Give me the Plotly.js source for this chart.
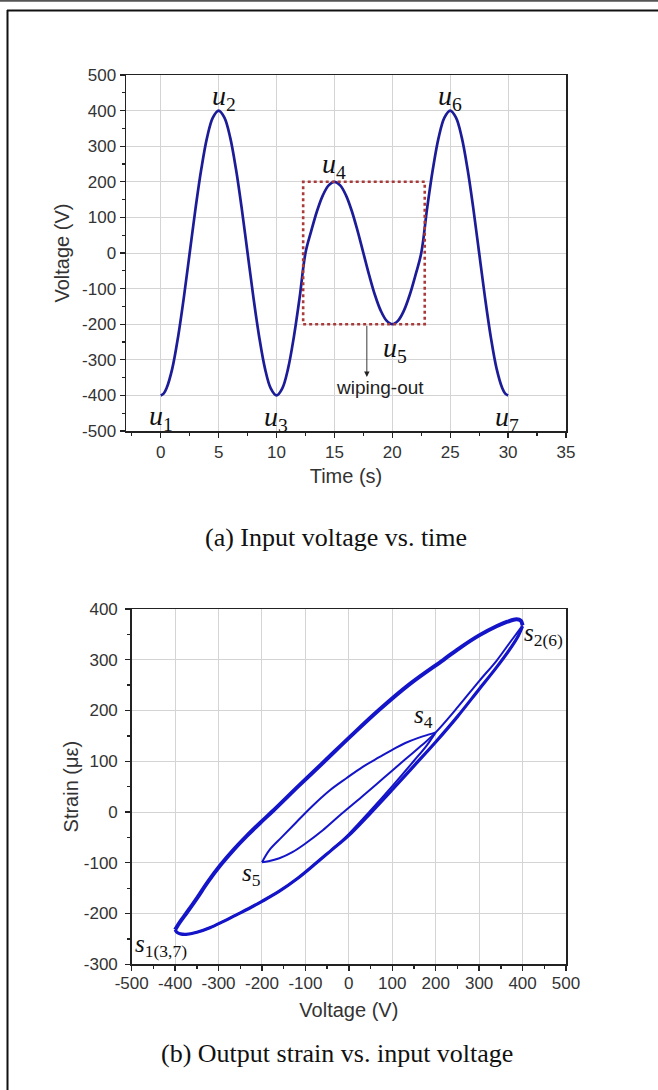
<!DOCTYPE html>
<html>
<head>
<meta charset="utf-8">
<script src="https://cdn.plot.ly/plotly-3.0.1.min.js"></script>
<style>
html,body{margin:0;padding:0;background:#fff;}
#chart{width:658px;height:1090px;}
</style>
</head>
<body>
<div id="chart"></div>
<script>
// ---------- Panel (a): input voltage vs time ----------
const timeS = [0,0.25,0.5,1,1.5,2,2.5,3,3.5,4,4.5,5,5.5,6,6.5,7,7.5,8,8.5,9,9.5,10,
  10.5,11,11.5,12,12.5,13,13.5,14,14.5,15,15.5,16,16.5,17,17.5,18,18.5,19,19.5,20,
  20.5,21,21.5,22,22.5,23,23.5,24,24.5,25,25.5,26,26.5,27,27.5,28,28.5,29,29.5,29.75,30];
const voltageV = [-400,-395,-380,-324,-235,-124,0,124,235,324,380,400,380,324,235,124,0,-124,-235,-324,-380,-400,
  -380,-324,-235,-124,0,62,118,162,190,200,190,162,118,62,0,-62,-118,-162,-190,-200,
  -190,-162,-118,-62,0,124,235,324,380,400,380,324,235,124,0,-124,-235,-324,-380,-395,-400];

const aXTicks = [0,5,10,15,20,25,30,35];
const aXTickText = ['0','5','10','15','20','25','30','35'];
const aYTicks = [-500,-400,-300,-200,-100,0,100,200,300,400,500];
const aYTickText = ['-500','-400','-300','-200','-100','0','100','200','300','400','500'];

const uLabels = ['1','2','3','4','5','6','7'];
const uT = [0.05,5.45,9.95,15.0,20.2,24.95,29.9];
const uV = [-461,438,-466,247,-270,438,-466];

const boxT = [12.3,22.8];
const boxV = [-200,200];
const wipeArrowT = 17.8;
const wipeArrowV = [-200,-348];
const wipeTextT = 18.9;
const wipeTextV = -379;

// ---------- Panel (b): output strain vs input voltage ----------
// pass 1: u1 -> u2 (ascending, outer lower branch)
const pass1V = [-400,-396,-388,-375,-350,-320,-290,-260,-230,-200,-160,-120,-80,-40,0,50,100,150,200,250,300,340,370,390,400];
const pass1S = [-232,-237,-240,-241,-237,-228,-216,-203,-190,-176,-156,-132,-104,-75,-46,-2,44,91,138,188,242,285,320,347,366];
// descending outer upper branch: u2 -> u3 and u6 -> u7
const upperV = [400,396,386,365,340,300,260,218,140,68,5,-56,-115,-175,-205,-235,-265,-295,-325,-350,-373,-385,-393,-400];
const upperS = [368,377,380,375,366,348,326,300,252,200,150,100,52,2,-22,-47,-74,-104,-138,-170,-198,-212,-222,-232];
// pass 3: u3 -> u4 (ascending to s4)
const pass3V = [-400,-396,-388,-375,-350,-320,-290,-260,-230,-200,-160,-120,-80,-40,0,50,100,150,180,200];
const pass3S = [-232,-237,-240,-241,-237,-228,-216,-203,-190,-176,-156,-132,-104,-75,-43,3,51,101,132,157];
// minor loop descending: u4 -> u5
const minorDownV = [200,185,160,130,109,70,32,-5,-45,-85,-122,-155,-183,-200];
const minorDownS = [157,153,146,136,127,108,89,67,42,11,-21,-50,-75,-99];
// ascending: u5 -> u4 -> u6
const minorUpV = [-200,-185,-160,-130,-100,-60,-20,30,80,130,170,200,250,300,340,370,390,400];
const minorUpS = [-99,-97,-91,-79,-62,-36,-6,30,67,104,133,157,206,258,298,333,356,368];

const bXTicks = [-500,-400,-300,-200,-100,0,100,200,300,400,500];
const bXTickText = ['-500','-400','-300','-200','-100','0','100','200','300','400','500'];
const bYTicks = [-300,-200,-100,0,100,200,300,400];
const bYTickText = ['-300','-200','-100','0','100','200','300','400'];

const sLabels = ['1(3,7)','4','5','2(6)'];
const sV = [-432,171,-225,448];
const sS = [-262,189,-124,349];

const captionA = '(a) Input voltage vs. time';
const captionB = '(b) Output strain vs. input voltage';

// ---------- figure ----------
const W = 658, H = 1090;
const px = v => v / W;
const py = v => 1 - v / H;

const sans = 'Liberation Sans, Arial, sans-serif';
const serif = 'Liberation Serif, Times New Roman, serif';
const tickFont = {family:sans, size:17, color:'#333'};
const titleFont = {family:sans, size:20, color:'#333'};

function axisStyle(extra){
  return Object.assign({
    showline:true, linecolor:'#222', linewidth:1.5, mirror:true,
    ticks:'outside', ticklen:5, tickwidth:1.3, tickcolor:'#222',
    showgrid:true, gridcolor:'#d4d4d4', gridwidth:1,
    zeroline:false, tickfont:tickFont, tickmode:'array', automargin:false,
    fixedrange:true
  }, extra);
}
function minorTicks(d){
  return {ticks:'outside', ticklen:3, tickcolor:'#222', dtick:d, tick0:0, showgrid:false};
}

const navy = '#1c1c98';
const blue = '#1414c8';
const sp = 1.0;

const traces = [
  {x:timeS, y:voltageV, xaxis:'x', yaxis:'y', mode:'lines', line:{color:navy, width:2.7, shape:'spline', smoothing:sp}, hoverinfo:'skip'},
  {x:pass1V, y:pass1S, xaxis:'x2', yaxis:'y2', mode:'lines', line:{color:blue, width:3.2, shape:'spline', smoothing:sp}, hoverinfo:'skip'},
  {x:upperV, y:upperS, xaxis:'x2', yaxis:'y2', mode:'lines', line:{color:blue, width:4, shape:'spline', smoothing:sp}, hoverinfo:'skip'},
  {x:pass3V, y:pass3S, xaxis:'x2', yaxis:'y2', mode:'lines', line:{color:blue, width:2, shape:'spline', smoothing:sp}, hoverinfo:'skip'},
  {x:minorDownV, y:minorDownS, xaxis:'x2', yaxis:'y2', mode:'lines', line:{color:blue, width:2, shape:'spline', smoothing:sp}, hoverinfo:'skip'},
  {x:minorUpV, y:minorUpS, xaxis:'x2', yaxis:'y2', mode:'lines', line:{color:blue, width:2, shape:'spline', smoothing:sp}, hoverinfo:'skip'}
];

const annotations = [];
uLabels.forEach((s,i)=>{
  annotations.push({xref:'x', yref:'y', x:uT[i], y:uV[i], showarrow:false,
    text:'<i>u</i><sub>'+s+'</sub>', font:{family:serif, size:28, color:'#111'}});
});
sLabels.forEach((s,i)=>{
  annotations.push({xref:'x2', yref:'y2', x:sV[i], y:sS[i], showarrow:false,
    text:'<i>s</i><sub>'+s+'</sub>', font:{family:serif, size:25, color:'#111'}});
});
annotations.push({xref:'x', yref:'y', axref:'x', ayref:'y', x:wipeArrowT, y:wipeArrowV[1], ax:wipeArrowT, ay:wipeArrowV[0],
  showarrow:true, arrowhead:2, arrowsize:1.2, arrowwidth:0.9, arrowcolor:'#222', text:'', standoff:0, startstandoff:0});
annotations.push({xref:'x', yref:'y', x:wipeTextT, y:wipeTextV, showarrow:false, text:'wiping-out',
  font:{family:sans, size:19, color:'#222'}});
annotations.push({xref:'paper', yref:'paper', x:px(336), y:py(537), showarrow:false, text:captionA,
  font:{family:serif, size:26, color:'#111'}});
annotations.push({xref:'paper', yref:'paper', x:px(337), y:py(1070), showarrow:false, text:captionB,
  font:{family:serif, size:26, color:'#111'}});

const shapes = [
  {type:'rect', xref:'x', yref:'y', x0:boxT[0], x1:boxT[1], y0:boxV[0], y1:boxV[1],
   line:{color:'#a83a3a', width:2.6, dash:'dot'}},
  {type:'line', xref:'paper', yref:'paper', x0:0, x1:1, y0:py(0.8), y1:py(0.8), line:{color:'#555', width:2}},
  {type:'line', xref:'paper', yref:'paper', x0:px(7), x1:1, y0:py(10.5), y1:py(10.5), line:{color:'#111', width:2}},
  {type:'line', xref:'paper', yref:'paper', x0:px(7.5), x1:px(7.5), y0:py(10), y1:0, line:{color:'#111', width:2}}
];

const layout = {
  width:W, height:H, margin:{l:0,r:0,t:0,b:0}, showlegend:false,
  paper_bgcolor:'#fff', plot_bgcolor:'#fff',
  xaxis: axisStyle({domain:[px(126), px(566)], range:[-3,35], anchor:'y',
    tickvals:aXTicks, ticktext:aXTickText, ticklabelstandoff:0, minor:minorTicks(2.5),
    title:{text:'Time (s)', font:titleFont, standoff:8}}),
  yaxis: axisStyle({domain:[py(431), py(75)], range:[-500,500], anchor:'x',
    tickvals:aYTicks, ticktext:aYTickText, minor:minorTicks(50),
    title:{text:'Voltage (V)', font:titleFont, standoff:7}}),
  xaxis2: axisStyle({domain:[px(131.7), px(566)], range:[-500,500], anchor:'y2',
    tickvals:bXTicks, ticktext:bXTickText, ticklabelstandoff:-2, minor:minorTicks(50),
    title:{text:'Voltage (V)', font:titleFont, standoff:11}}),
  yaxis2: axisStyle({domain:[py(964.3), py(609)], range:[-300,400], anchor:'x2',
    tickvals:bYTicks, ticktext:bYTickText, ticklabelstandoff:4, minor:minorTicks(50),
    title:{text:'Strain (με)', font:titleFont, standoff:0}}),
  annotations: annotations,
  shapes: shapes
};

Plotly.newPlot('chart', traces, layout, {staticPlot:true, displayModeBar:false});
</script>
</body>
</html>
